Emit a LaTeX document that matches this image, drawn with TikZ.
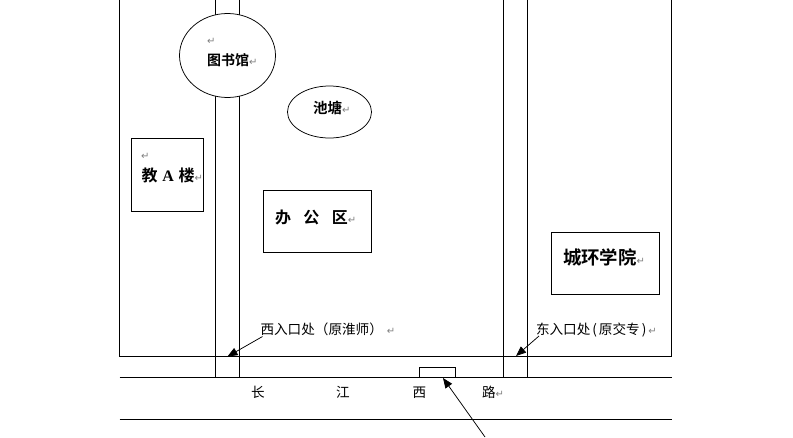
\documentclass[tikz,border=0pt]{standalone}
\usepackage{fontspec}
\setmainfont{Liberation Serif}
\newfontfamily\cjkfn{Noto Sans CJK SC}
\newfontfamily\cjkbf{Noto Sans CJK SC Bold}
\newfontfamily\djfn{DejaVu Sans}
\usetikzlibrary{arrows.meta}
\definecolor{markgray}{gray}{0.5}
\newcommand{\rmk}{{\djfn\fontsize{10}{10}\selectfont\textcolor{markgray}{↵}}}
\tikzset{
  x=1pt,y=-1pt,
  wall/.style={draw=black,line width=0.75pt},
  place/.style={wall,fill=white,inner sep=0pt,outer sep=0pt},
  ptr/.style={draw=black,line width=0.75pt,-{Triangle[length=10pt,width=8pt]}},
  lbl/.style={inner sep=0pt,outer sep=0pt,anchor=west},
  big/.style={lbl,font=\cjkbf\fontsize{14}{16}\selectfont},
  bigger/.style={lbl,font=\cjkbf\fontsize{16}{18}\selectfont},
  small/.style={lbl,font=\cjkfn\fontsize{13.6}{15}\selectfont},
}
\begin{document}
\begin{tikzpicture}
\useasboundingbox (0,0) rectangle (793,437);
\coordinate (tl) at (119.5,0);
\coordinate (bl) at (119.5,356.5);
\coordinate (tr) at (671.5,0);
\coordinate (br) at (671.5,356.5);
\coordinate (rl) at (119.5,377.5);
\coordinate (rr) at (671.5,377.5);
\coordinate (sl) at (119.5,419.5);
\coordinate (sr) at (671.5,419.5);
\coordinate (w1t) at (215.5,0);
\coordinate (w1b) at (215.5,377.5);
\coordinate (w2t) at (239.5,0);
\coordinate (w2b) at (239.5,377.5);
\coordinate (e1t) at (503.5,0);
\coordinate (e1b) at (503.5,377.5);
\coordinate (e2t) at (527.5,0);
\coordinate (e2b) at (527.5,377.5);
\draw[wall] (tl) -- (bl) -- (br) -- (tr);
\draw[wall] (rl) -- (rr);
\draw[wall] (sl) -- (sr);
\draw[wall] (w1t) -- (w1b);
\draw[wall] (w2t) -- (w2b);
\draw[wall] (e1t) -- (e1b);
\draw[wall] (e2t) -- (e2b);
\draw[place] (227.5,55.5) ellipse [x radius=48,y radius=42];
\draw[place] (329.5,112) ellipse [x radius=42,y radius=26];
\draw[place] (131.5,138.5) rectangle (203.5,211.5);
\draw[place] (263.5,190.5) rectangle (371.5,252.5);
\draw[place] (551.5,232.5) rectangle (659.5,294.5);
\draw[place] (419.5,367.5) rectangle (455.5,377.5);
\node[lbl] (m1) at (207,41.5) {\rmk};
\node[big] (lib) at (207,60.5) {图书馆\rmk};
\node[big,font=\cjkbf\fontsize{14.5}{16}\selectfont] (pond) at (313,108) {池塘\rmk};
\node[lbl] (m2) at (141,156.5) {\rmk};
\node[bigger] (teach) at (141.5,175.5) {教\hspace{0.3em}{\fontspec{Liberation Serif Bold}A}\hspace{0.3em}楼\rmk};
\node[bigger] (office) at (275,217.5) {办\hspace{0.78em}公\hspace{0.78em}区\rmk};
\node[lbl,font=\cjkbf\fontsize{18.4}{20}\selectfont] (city) at (563,257.5) {城环学院\rmk};
\node[small] (west) at (260.5,329.5) {西入口处（原淮师）\hspace{4pt}\rmk};
\node[small] (east) at (536,330) {东入口处\hspace{2pt}(\hspace{2pt}原交专\hspace{2pt})\hspace{2pt}\rmk};
\node[small] (c1) at (251,392.5) {长};
\node[small] (c2) at (336,392.5) {江};
\node[small] (c3) at (412.5,392.5) {西};
\node[small] (c4) at (482,392.5) {路\rmk};
\coordinate (wa) at (227.5,356.5);
\coordinate (ea) at (516,356);
\coordinate (ga) at (443,378);
\coordinate (gs) at (485,437);
\draw[ptr] (west.west) ++(2,7) -- (wa);
\draw[ptr] (east.west) ++(3,6) -- (ea);
\draw[ptr] (gs) -- (ga);
\end{tikzpicture}
\end{document}
